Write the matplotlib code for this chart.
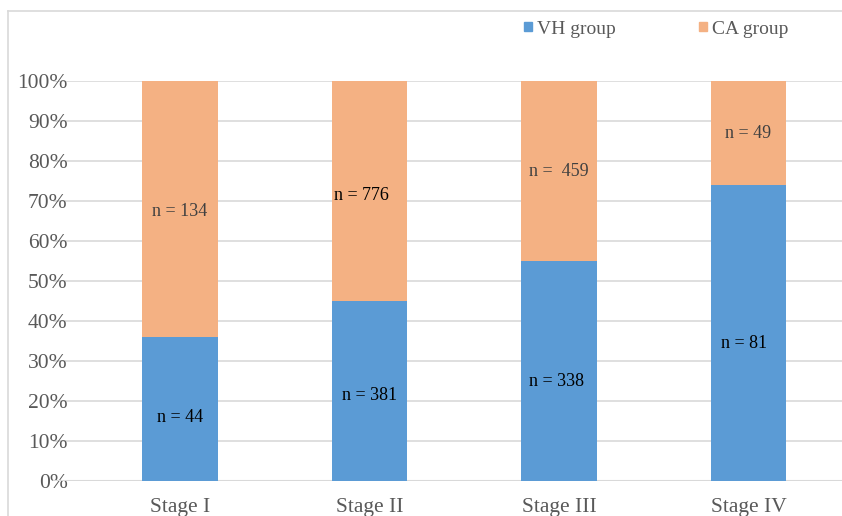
import matplotlib
matplotlib.use("Agg")
import matplotlib.pyplot as plt
from matplotlib.patches import Rectangle
from matplotlib.lines import Line2D

categories = ["Stage I", "Stage II", "Stage III", "Stage IV"]
vh_pct = [0.36, 0.45, 0.55, 0.74]
ca_pct = [0.64, 0.55, 0.45, 0.26]
vh_labels = ["n = 44", "n = 381", "n = 338", "n = 81"]
ca_labels = ["n = 134", "n = 776", "n =  459", "n = 49"]
vh_label_y = [0.1575, 0.2125, 0.2475, 0.345]
ca_label_y = [0.675, 0.7125, 0.7725, 0.87]
vh_label_dx = [0.0, 0.0, -0.015, -0.025]
ca_label_dx = [0.0, -0.04, 0.0, 0.0]
ca_label_colors = ["#404040", "#000000", "#404040", "#404040"]
yticks = [0, 0.1, 0.2, 0.3, 0.4, 0.5, 0.6, 0.7, 0.8, 0.9, 1.0]
ytick_labels = ["0%", "10%", "20%", "30%", "40%", "50%", "60%", "70%", "80%", "90%", "100%"]

W, H = 842, 516
fig = plt.figure(figsize=(W / 100, H / 100), dpi=100)
plt.rcParams['font.family'] = ['Liberation Serif', 'DejaVu Serif']

blue = "#5B9BD5"
orange = "#F4B183"

left_px, right_px = 53, 842
bottom_px, top_px = 481, 81
ax = fig.add_axes([left_px / W, (H - bottom_px) / H, (right_px - left_px) / W, (bottom_px - top_px) / H])

x = list(range(len(categories)))
ax.bar(x, vh_pct, width=0.4, color=blue, zorder=3)
ax.bar(x, ca_pct, bottom=vh_pct, width=0.4, color=orange, zorder=3)

c0, sp = 180, 189.5
ax.set_xlim((left_px - c0) / sp, (right_px - c0) / sp)
ax.set_ylim(0, 1)

ax.set_yticks(yticks)
ax.set_yticklabels(ytick_labels, fontsize=15.5, color="#595959")
ax.set_xticks(x)
ax.set_xticklabels(categories, fontsize=15.5, color="#595959")
ax.tick_params(axis='both', length=0)
ax.tick_params(axis='x', pad=12)
ax.yaxis.set_tick_params(pad=-10.5)

ax.grid(axis='y', color="#d9d9d9", linewidth=1.2, zorder=0)
for s in ax.spines.values():
    s.set_visible(False)
ax.axhline(0, color="#d9d9d9", linewidth=1.5, zorder=2)

for i in x:
    ax.text(i + vh_label_dx[i], vh_label_y[i], vh_labels[i], ha='center', va='center',
            fontsize=13, color="#000000", zorder=5)
    ax.text(i + ca_label_dx[i], ca_label_y[i], ca_labels[i], ha='center', va='center',
            fontsize=13, color=ca_label_colors[i], zorder=5)

# outer chart border
fig.add_artist(Line2D([8 / W, 8 / W], [0, (H - 11) / H], color="#d9d9d9", linewidth=1.2))
fig.add_artist(Line2D([8 / W, 1], [(H - 11) / H, (H - 11) / H], color="#d9d9d9", linewidth=1.2))

handles = [Rectangle((0, 0), 1, 1, color=blue), Rectangle((0, 0), 1, 1, color=orange)]
fig.legend(handles, ["VH group", "CA group"], ncol=2, frameon=False,
           loc='center', bbox_to_anchor=(656 / W, (H - 29) / H),
           fontsize=14, handlelength=0.4, handleheight=0.4, handletextpad=0.25,
           columnspacing=4.3, labelcolor="#595959")

fig.savefig("out.png", dpi=100)
